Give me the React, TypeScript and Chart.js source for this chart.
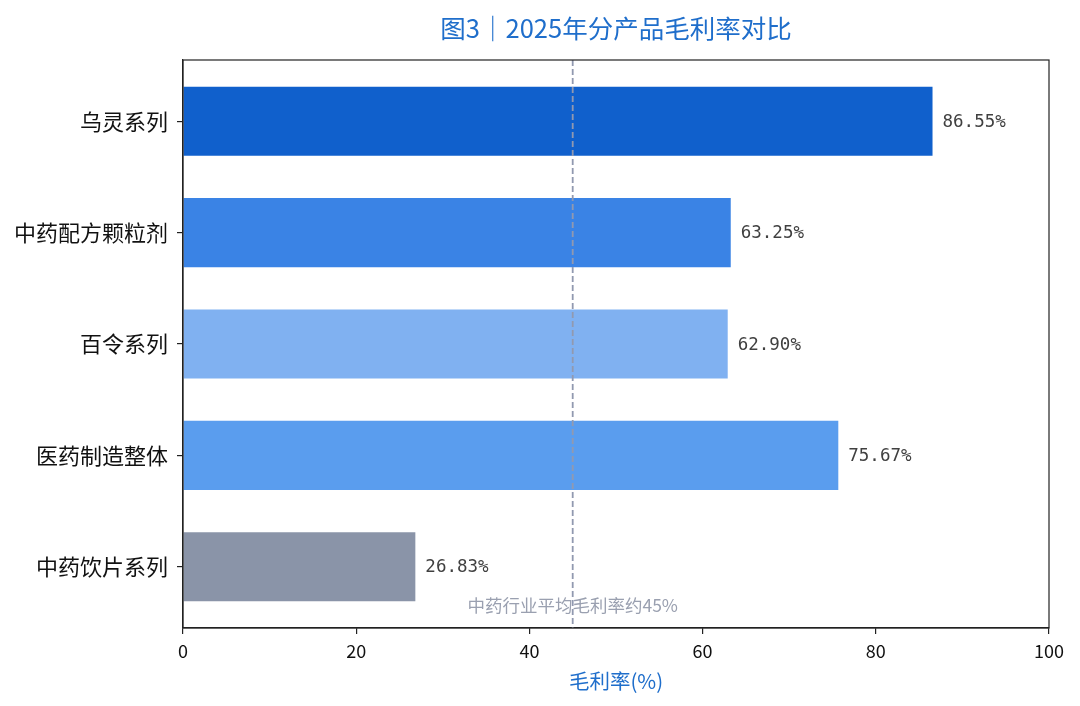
import React, { useEffect, useRef } from "react";
import { Chart, registerables } from "chart.js";

Chart.register(...registerables);

const TITLE = "图3｜2025年分产品毛利率对比";
const X_TITLE = "毛利率(%)";
const CATEGORIES = ["乌灵系列", "中药配方颗粒剂", "百令系列", "医药制造整体", "中药饮片系列"];
const MARGINS = [86.55, 63.25, 62.9, 75.67, 26.83];
const BAR_COLORS = ["#1060CC", "#3A83E5", "#80B1F1", "#5A9DEE", "#8A94A8"];
const INDUSTRY_AVG = 45;
const INDUSTRY_LABEL = "中药行业平均毛利率约45%";
const X_MIN = 0;
const X_MAX = 100;
const X_STEP = 20;

const CJK = '"Noto Sans CJK SC", "Noto Sans", sans-serif';

const overlayPlugin = {
  id: "overlay",
  afterDatasetsDraw(chart: any) {
    const { ctx, chartArea, scales } = chart;
    const xs = scales.x;
    const ys = scales.y;
    ctx.save();
    // value labels
    ctx.font = `17.5px "DejaVu Sans Mono", monospace`;
    ctx.fillStyle = "#404040";
    ctx.textAlign = "left";
    ctx.textBaseline = "middle";
    MARGINS.forEach((v, i) => {
      const px = xs.getPixelForValue(v) + 10;
      const py = ys.getPixelForValue(i);
      ctx.fillText(v.toFixed(2) + "%", px, py + 1);
    });
    // dashed average line
    const ax = xs.getPixelForValue(INDUSTRY_AVG);
    ctx.strokeStyle = "#9199B0";
    ctx.lineWidth = 1.8;
    ctx.setLineDash([6, 3]);
    ctx.beginPath();
    ctx.moveTo(ax, chartArea.top);
    ctx.lineTo(ax, chartArea.bottom);
    ctx.stroke();
    ctx.setLineDash([]);
    // average label
    ctx.font = `17.5px ${CJK}`;
    ctx.fillStyle = "#9AA0B0";
    ctx.textAlign = "center";
    ctx.fillText(INDUSTRY_LABEL, ax, chartArea.bottom - 23);
    // frame
    ctx.strokeStyle = "#222";
    ctx.lineWidth = 1.2;
    ctx.strokeRect(chartArea.left, chartArea.top, chartArea.right - chartArea.left, chartArea.bottom - chartArea.top);
    // title
    ctx.font = `25.5px ${CJK}`;
    ctx.fillStyle = "#1F6ECB";
    ctx.textAlign = "center";
    ctx.fillText(TITLE, (chartArea.left + chartArea.right) / 2, 28);
    // x title
    ctx.font = `20.5px ${CJK}`;
    ctx.fillStyle = "#1F6ECB";
    ctx.fillText(X_TITLE, (chartArea.left + chartArea.right) / 2, 681);
    ctx.restore();
  },
};

export default function App() {
  const ref = useRef<HTMLCanvasElement>(null);
  useEffect(() => {
    document.body.style.margin = "0";
    const chart = new Chart(ref.current as HTMLCanvasElement, {
      type: "bar",
      data: {
        datasets: [
          {
            data: MARGINS.map((v, i) => ({ x: v, y: i })) as any,
            backgroundColor: BAR_COLORS,
            borderWidth: 0,
            barPercentage: 0.62,
            categoryPercentage: 1,
          },
        ],
      },
      options: {
        indexAxis: "y",
        animation: false,
        responsive: true,
        maintainAspectRatio: false,
        layout: { padding: { left: 0, right: 31, top: 60, bottom: 0 } },
        plugins: { legend: { display: false }, tooltip: { enabled: false }, title: { display: false } },
        scales: {
          x: {
            type: "linear",
            min: X_MIN,
            max: X_MAX,
            offset: false,
            ticks: { stepSize: X_STEP, color: "#111", font: { family: CJK, size: 18 }, padding: 6 },
            grid: { offset: false, drawOnChartArea: false, drawTicks: true, tickLength: 6, color: "#222", lineWidth: 1.2 },
            border: { display: true, color: "#222", width: 1.2 },
            afterFit(scale: any) {
              scale.height = 78;
            },
          },
          y: {
            type: "linear",
            reverse: true,
            offset: false,
            min: -0.55,
            max: CATEGORIES.length - 0.45,
            afterBuildTicks(scale: any) {
              scale.ticks = CATEGORIES.map((_, i) => ({ value: i }));
            },
            ticks: {
              color: "#111",
              font: { family: CJK, size: 22 },
              padding: 9,
              callback: (v: any) => CATEGORIES[v as number] ?? "",
            },
            grid: { offset: false, drawOnChartArea: false, drawTicks: true, tickLength: 6, color: "#222", lineWidth: 1.2 },
            border: { display: true, color: "#222", width: 1.2 },
            afterFit(scale: any) {
              scale.width = 183;
            },
          },
        },
      },
      plugins: [overlayPlugin],
    });
    return () => chart.destroy();
  }, []);
  return (
    <div style={{ width: 1080, height: 706, position: "relative", background: "#fff" }}>
      <canvas ref={ref} />
    </div>
  );
}
